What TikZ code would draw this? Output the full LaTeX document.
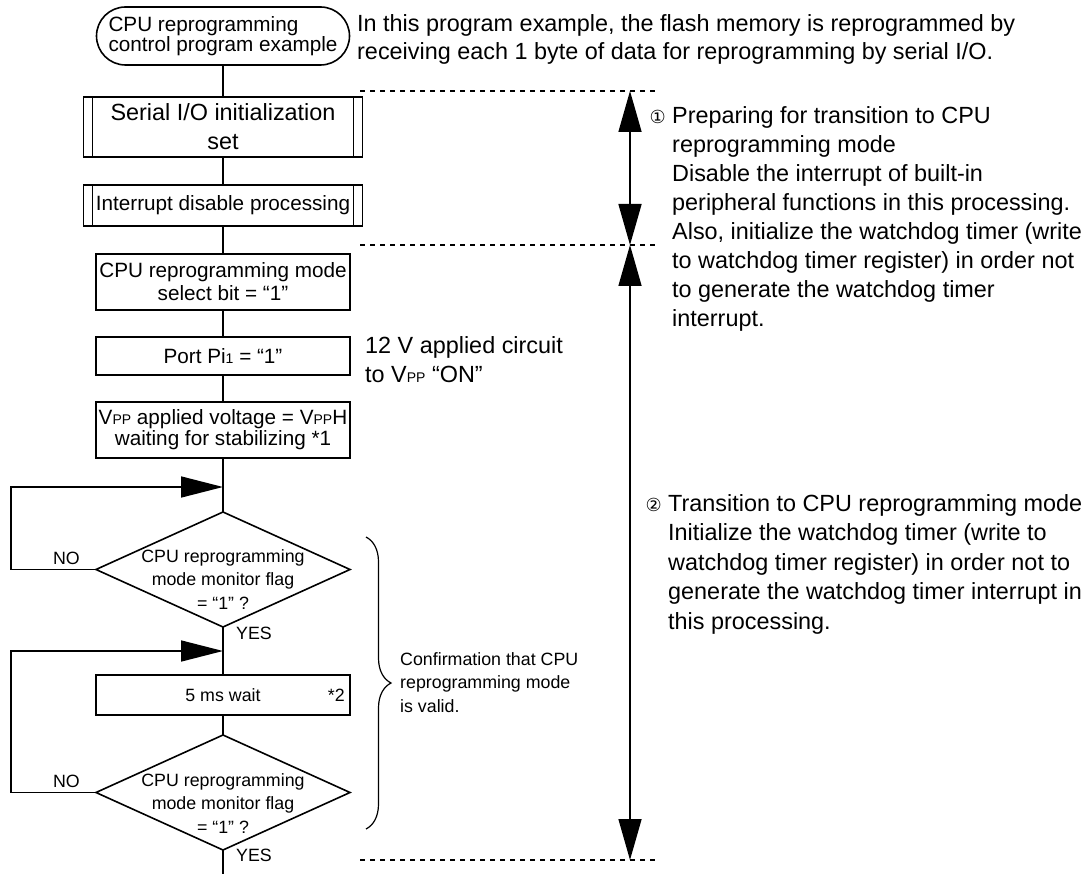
\documentclass[tikz,border=0pt]{standalone}
\usepackage{fontspec}
\setmainfont{Liberation Sans}
\newfontfamily\circfont{DejaVu Sans}
\usetikzlibrary{positioning,arrows.meta,shapes.geometric,decorations.pathreplacing,calc}

\newcommand{\bigfont}{\fontsize{23.4}{29}\selectfont}
\newcommand{\boxfont}{\fontsize{20.7}{23}\selectfont}
\newcommand{\smallfont}{\fontsize{17.8}{23.5}\selectfont}
\newcommand{\lowtxt}[1]{{\fontsize{14}{14}\selectfont #1}}
\newcommand{\circno}[1]{\llap{{\circfont\fontsize{18}{18}\selectfont #1}\ }}

\begin{document}
\begin{tikzpicture}[x=1pt, y=-1pt,
  node distance=28pt,
  proc/.style={draw, line width=1.6pt, outer sep=0pt, minimum width=254pt, inner sep=0pt, align=center, font=\boxfont},
  subproc/.style={proc, minimum width=279pt},
  term/.style={draw, line width=1.6pt, outer sep=0pt, rounded corners=29pt, minimum width=253pt, minimum height=58pt, inner sep=0pt, align=left, font=\boxfont},
  decision/.style={draw, diamond, line width=1.6pt, outer sep=0pt, minimum width=254pt, minimum height=115pt, inner sep=0pt},
  dtext/.style={align=center, font=\smallfont, inner sep=0pt},
  lbl/.style={font=\smallfont, inner sep=0pt},
  note/.style={align=left, font=\bigfont, inner sep=0pt, anchor=north west},
  flow/.style={line width=1.6pt},
  back/.style={line width=1.6pt, -{Triangle[length=42pt, width=21pt]}},
  dimarr/.style={line width=1.6pt, {Triangle[length=41pt, width=23pt]}-{Triangle[length=41pt, width=23pt]}},
  guide/.style={line width=1.4pt, dash pattern=on 5pt off 5pt}
]
\useasboundingbox (0,0) rectangle (1089,874);

\node[term] (start) at (223,36) {CPU reprogramming\\[-3pt]control program example};
\node[subproc, minimum height=60pt, below=32pt of start, font=\bigfont] (sioinit) {Serial I/O initialization\\set};
\node[subproc, minimum height=41pt, below=of sioinit] (intdis) {Interrupt disable processing};
\node[proc, minimum height=56pt, below=of intdis] (modesel) {CPU reprogramming mode\\select bit = “1”};
\node[proc, minimum height=38pt, below=27pt of modesel] (port) {Port Pi\lowtxt{1} = “1”};
\node[proc, minimum height=56pt, below=27pt of port] (vppwait) {V\lowtxt{PP} applied voltage = V\lowtxt{PP}H\\[-2pt]waiting for stabilizing *1};
\node[decision, below=54pt of vppwait] (chk1) {};
\node[proc, minimum height=40pt, below=48pt of chk1, font=\smallfont] (wait5) {5 ms wait};
\node[decision, below=20pt of wait5] (chk2) {};

\node[dtext, yshift=-10pt] (chk1txt) at (chk1) {CPU reprogramming\\mode monitor flag\\= “1” ?};
\node[dtext, yshift=-11pt] (chk2txt) at (chk2) {CPU reprogramming\\mode monitor flag\\= “1” ?};
\node[lbl, anchor=east] (star2) at ([xshift=-5pt]wait5.east) {*2};

\foreach \n in {sioinit,intdis}
  \draw[flow] ([xshift=9pt]\n.north west) -- ([xshift=9pt]\n.south west)
              ([xshift=-9pt]\n.north east) -- ([xshift=-9pt]\n.south east);

\coordinate[below=29pt of vppwait] (join1);
\coordinate[below=24pt of chk1] (join2);
\coordinate[below=25pt of chk2] (tail);

\foreach \a/\b in {start/sioinit, sioinit/intdis, intdis/modesel, modesel/port, port/vppwait, vppwait/chk1, chk1/wait5, wait5/chk2, chk2/tail}
  \draw[flow] (\a) -- (\b);

\draw[back] (chk1.west) -- ++(-85,0) |- (join1);
\draw[back] (chk2.west) -- ++(-85,0) |- (join2);

\node[lbl, above left=5pt and 16pt of chk1.west] (no1) {NO};
\node[lbl, below right=0pt and 13pt of chk1.south] (yes1) {YES};
\node[lbl, above left=5pt and 16pt of chk2.west] (no2) {NO};
\node[lbl, below right=-1pt and 13pt of chk2.south] (yes2) {YES};

\coordinate (brtop) at (366,537);
\coordinate (brbot) at (366,829);
\draw[line width=1.2pt, decorate, decoration={brace, amplitude=25pt}] (brtop) -- (brbot);
\node[note, font=\smallfont] (confirm) at (400,652) {Confirmation that CPU\\reprogramming mode\\is valid.};

\foreach \y/\n in {91/a, 245/b, 860/c} {
  \coordinate (gl\n) at (360,\y);
  \coordinate (gr\n) at (655,\y);
  \coordinate (dim\n) at (630,\y);
  \draw[guide] (gl\n) -- (gr\n);
}
\draw[dimarr] (dima) -- (dimb);
\draw[dimarr] (dimb) -- (dimc);

\node[note] (intro) at (357,14) {In this program example, the flash memory is reprogrammed by\\[-1pt]receiving each 1 byte of data for reprogramming by serial I/O.};
\node[note] (vppnote) at (365,336) {12 V applied circuit\\to V\lowtxt{PP} “ON”};
\node[note] (step1) at (672,106) {\circno{①}Preparing for transition to CPU\\reprogramming mode\\Disable the interrupt of built-in\\peripheral functions in this processing.\\Also, initialize the watchdog timer (write\\to watchdog timer register) in order not\\to generate the watchdog timer\\interrupt.};
\node[note] (step2) at (668,494) {\circno{②}Transition to CPU reprogramming mode\\[0.5pt]Initialize the watchdog timer (write to\\[0.5pt]watchdog timer register) in order not to\\[0.5pt]generate the watchdog timer interrupt in\\[0.5pt]this processing.};
\end{tikzpicture}
\end{document}
